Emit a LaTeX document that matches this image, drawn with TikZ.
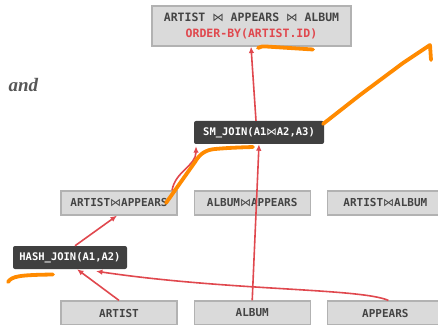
\documentclass[tikz,border=0pt]{standalone}
\usepackage{fontspec}
\setmonofont{DejaVu Sans Mono}
\newfontfamily\symfont{DejaVu Sans}
\newfontfamily\andfont{Liberation Serif}
\usepackage{xcolor}
\usetikzlibrary{positioning,arrows.meta}
\definecolor{DBgrey}{HTML}{DADADA}
\definecolor{DBedge}{HTML}{B2B2B2}
\definecolor{DBtext}{HTML}{444444}
\definecolor{DBdark}{HTML}{404040}
\definecolor{DBred}{HTML}{E0484E}
\definecolor{DBorange}{HTML}{FF8A00}
\newcommand{\jn}{{\symfont\mdseries ⋈}}
\tikzset{
  relbox/.style={draw=DBedge, fill=DBgrey, line width=1.2pt, minimum width=116pt, minimum height=24pt, inner sep=0pt, font=\ttfamily\bfseries\fontsize{11}{13}\selectfont, text=DBtext},
  opbox/.style={rounded corners=2pt, fill=DBdark, minimum height=23pt, inner sep=0pt, font=\ttfamily\bfseries\fontsize{10.5}{12}\selectfont, text=white},
  dataarr/.style={-{Latex[length=6.5pt,width=5.5pt]}, line width=1.6pt, draw=DBred},
  inkline/.style={line width=3.8pt, draw=DBorange, line cap=round, line join=round}
}
\begin{document}
\begin{tikzpicture}[x=1pt, y=1pt, node distance=16pt]
  \useasboundingbox (0,0) rectangle (438,324);
  % query result
  \node[relbox, minimum width=199pt, minimum height=40pt, align=center, font=\ttfamily\bfseries\fontsize{11.5}{16}\selectfont] (result) at (251.5,298)
    {ARTIST \jn{} APPEARS \jn{} ALBUM\\\textcolor{DBred}{ORDER-BY(ARTIST.ID)}};
  \node[anchor=base west, font=\andfont\bfseries\itshape\fontsize{19}{22}\selectfont, text=DBtext!90] (andword) at (5,232) {and};
  % operators
  \node[opbox, minimum width=130pt] (smjoin) at (259,191.5) {SM\_JOIN(A1\jn{}A2,A3)};
  \node[opbox, minimum width=114pt] (hashjoin) at (70,66.5) {HASH\_JOIN(A1,A2)};
  % intermediate joins
  \node[relbox] (artapp) at (119,121) {ARTIST\jn{}APPEARS};
  \node[relbox, right=of artapp] (albapp) {ALBUM\jn{}APPEARS};
  \node[relbox, right=of albapp] (artalb) {ARTIST\jn{}ALBUM};
  % base tables
  \node[relbox] (artist) at (119,11) {ARTIST};
  \node[relbox, right=of artist] (album) {ALBUM};
  \node[relbox, right=of album] (appears) {APPEARS};
  % data flow
  \draw[dataarr] (artist.north) -- ([xshift=7pt]hashjoin.south);
  \draw[dataarr] ([xshift=3pt]appears.north) .. controls (360,36) and (230,33) .. ([xshift=26pt, yshift=-2pt]hashjoin.south);
  \draw[dataarr] (hashjoin.north) ++(5pt,0) -- ([xshift=-2pt]artapp.south);
  \draw[dataarr] ([xshift=53pt]artapp.north) to[out=80, in=-90] ([xshift=-63pt, yshift=-2pt]smjoin.south);
  \draw[dataarr] (album.north) -- (smjoin.south);
  \draw[dataarr] ([xshift=-3pt]smjoin.north) -- ([xshift=-0.5pt]result.south);
  % annotations
  \draw[inkline] (166,121) -- (195,162) to[out=60, in=185] (215,175) to[out=5, in=182] (253,177);
  \draw[inkline] (323,200) -- (360,229) -- (403,261) -- (430,279) -- (431,264);
  \draw[inkline] (8,42) .. controls (12,48) and (20,49) .. (53,49.5);
  \draw[inkline] (258,276) to[out=30, in=175] (266,277.5) -- (313,274.5);
\end{tikzpicture}
\end{document}
